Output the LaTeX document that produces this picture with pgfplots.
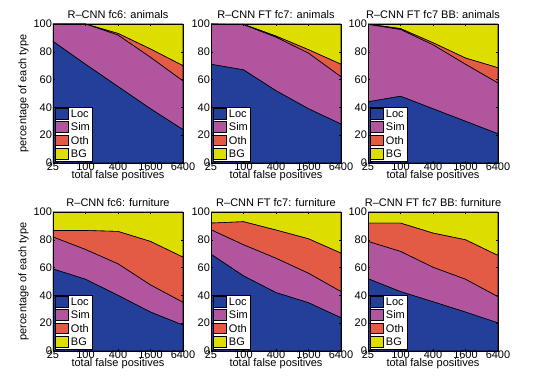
\documentclass[border=0pt]{standalone}
\usepackage{pgfplots}
\pgfplotsset{compat=1.18}
\usepackage{fontspec}
\setmainfont{Liberation Sans}
\definecolor{cLoc}{RGB}{36,63,153}
\definecolor{cSim}{RGB}{177,86,158}
\definecolor{cOth}{RGB}{227,91,69}
\definecolor{cBG}{RGB}{221,221,0}
\pgfplotsset{
  panel/.style={
    scale only axis, width=130pt, height=139pt,
    anchor=south west,
    xmin=0, xmax=4, ymin=0, ymax=100,
    xtick={0,1,2,3,4}, xticklabels={25,100,400,1600,6400},
    ytick={0,20,40,60,80,100},
    stack plots=y,
    axis on top,
    tick align=inside, major tick length=2pt,
    tick style={black, line width=0.5pt},
    axis line style={line width=0.9pt},
    /pgf/number format/assume math mode=true,
    tick label style={font=\fontsize{11}{12}\selectfont},
    xticklabel style={yshift=3.5pt},
    yticklabel style={xshift=2.5pt},
    title style={font=\fontsize{11}{12}\selectfont, yshift=-4pt},
    xlabel={total false positives},
    xlabel style={font=\fontsize{11}{12}\selectfont, yshift=7pt},
    legend cell align=left,
    legend style={at={(0.012,0.008)}, anchor=south west,
      font=\fontsize{11}{12}\selectfont, inner sep=0.5pt, row sep=0pt,
      draw=black, line width=0.6pt, fill=white},
    legend image code/.code={\draw[#1, draw=black, line width=0.6pt] (0pt,-4.5pt) rectangle (13pt,6pt);},
  },
  ylab/.style={ylabel={percentage of each type},
    ylabel style={font=\fontsize{11}{12}\selectfont, yshift=-2pt}},
  every axis plot/.append style={draw=black, line width=0.6pt},
}
\begin{document}
\begin{tikzpicture}[x=1pt,y=1pt]
\useasboundingbox (0,0) rectangle (550,379);
% ---------- top row: animals ----------
\begin{axis}[panel, ylab, at={(53pt,216pt)}, title={R\textendash CNN fc6: animals}]
\addplot[fill=cLoc] coordinates {(0,87.5) (1,71) (2,55) (3,39) (4,24)} \closedcycle;
\addplot[fill=cSim] coordinates {(0,12.5) (1,29) (2,37) (3,37) (4,35)} \closedcycle;
\addplot[fill=cOth] coordinates {(0,0) (1,0) (2,1.2) (3,6) (4,11)} \closedcycle;
\addplot[fill=cBG] coordinates {(0,0) (1,0) (2,6.8) (3,18) (4,30)} \closedcycle;
\legend{Loc,Sim,Oth,BG}
\end{axis}
\begin{axis}[panel, at={(211pt,216pt)}, title={R\textendash CNN FT fc7: animals}]
\addplot[fill=cLoc] coordinates {(0,71) (1,67) (2,52) (3,39) (4,28)} \closedcycle;
\addplot[fill=cSim] coordinates {(0,29) (1,32.5) (2,38.5) (3,40) (4,34)} \closedcycle;
\addplot[fill=cOth] coordinates {(0,0) (1,0.3) (2,0.8) (3,2.5) (4,9)} \closedcycle;
\addplot[fill=cBG] coordinates {(0,0) (1,0.2) (2,8.7) (3,18.5) (4,29)} \closedcycle;
\legend{Loc,Sim,Oth,BG}
\end{axis}
\begin{axis}[panel, at={(368pt,216pt)}, title={R\textendash CNN FT fc7 BB: animals}]
\addplot[fill=cLoc] coordinates {(0,44) (1,48) (2,39) (3,30) (4,21)} \closedcycle;
\addplot[fill=cSim] coordinates {(0,55.7) (1,48) (2,46) (3,41) (4,36.5)} \closedcycle;
\addplot[fill=cOth] coordinates {(0,0.2) (1,0.7) (2,1.5) (3,4.5) (4,11)} \closedcycle;
\addplot[fill=cBG] coordinates {(0,0.1) (1,3.3) (2,13.5) (3,24.5) (4,31.5)} \closedcycle;
\legend{Loc,Sim,Oth,BG}
\end{axis}
% ---------- bottom row: furniture ----------
\begin{axis}[panel, ylab, at={(53pt,28pt)}, title={R\textendash CNN fc6: furniture}]
\addplot[fill=cLoc] coordinates {(0,59) (1,51.6) (2,40) (3,28) (4,18.6)} \closedcycle;
\addplot[fill=cSim] coordinates {(0,23) (1,21.4) (2,22.7) (3,19.5) (4,16.4)} \closedcycle;
\addplot[fill=cOth] coordinates {(0,4.7) (1,13.7) (2,23.3) (3,31.3) (4,32.5)} \closedcycle;
\addplot[fill=cBG] coordinates {(0,13.3) (1,13.3) (2,14) (3,21.2) (4,32.5)} \closedcycle;
\legend{Loc,Sim,Oth,BG}
\end{axis}
\begin{axis}[panel, at={(211pt,28pt)}, title={R\textendash CNN FT fc7: furniture}]
\addplot[fill=cLoc] coordinates {(0,69.6) (1,54) (2,42) (3,34.7) (4,23.9)} \closedcycle;
\addplot[fill=cSim] coordinates {(0,17.6) (1,22.4) (2,24.7) (3,21.2) (4,18.8)} \closedcycle;
\addplot[fill=cOth] coordinates {(0,4.8) (1,16.6) (2,20.3) (3,24.8) (4,27.7)} \closedcycle;
\addplot[fill=cBG] coordinates {(0,8) (1,7) (2,13) (3,19.3) (4,29.6)} \closedcycle;
\legend{Loc,Sim,Oth,BG}
\end{axis}
\begin{axis}[panel, at={(368pt,28pt)}, title={R\textendash CNN FT fc7 BB: furniture}]
\addplot[fill=cLoc] coordinates {(0,52) (1,42.7) (2,35.4) (3,28) (4,20.2)} \closedcycle;
\addplot[fill=cSim] coordinates {(0,26.8) (1,28.9) (2,24.8) (3,23.6) (4,18.8)} \closedcycle;
\addplot[fill=cOth] coordinates {(0,13.2) (1,20.4) (2,24.6) (3,28.4) (4,29.7)} \closedcycle;
\addplot[fill=cBG] coordinates {(0,8) (1,8) (2,15.2) (3,20) (4,31.3)} \closedcycle;
\legend{Loc,Sim,Oth,BG}
\end{axis}
\end{tikzpicture}
\end{document}
